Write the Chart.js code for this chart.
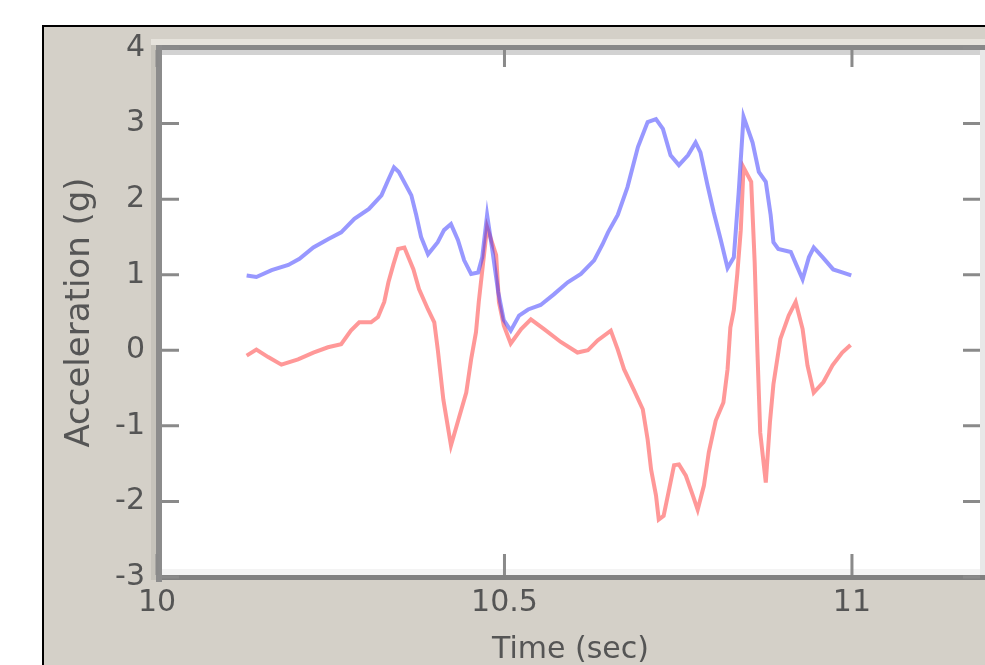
<!DOCTYPE html>
<html lang="en">
<head>
    <meta charset="UTF-8">
    <title>Acceleration vs Time</title>
    <script src="https://cdn.jsdelivr.net/npm/chart.js"></script>
    <style>
        html, body {
            margin: 0;
            padding: 0;
            background: #ffffff;
            overflow: hidden;
        }
        .stage {
            position: relative;
            width: 985px;
            height: 665px;
        }
        .panel {
            position: absolute;
            left: 42px;
            top: 25px;
            width: 943px;
            height: 640px;
            box-sizing: border-box;
            background: #d4d0c8;
            border-left: 2px solid #000;
            border-top: 2px solid #000;
        }
        #accelChart {
            position: absolute;
            left: 0;
            top: 0;
        }
    </style>
</head>
<body>
    <div class="stage">
        <div class="panel"></div>
        <canvas id="accelChart" width="985" height="665"></canvas>
    </div>

    <script>
        // values
        const blueTimes = [10.129, 10.143, 10.165, 10.189, 10.205, 10.225, 10.246, 10.265, 10.284, 10.305,
            10.323, 10.333, 10.341, 10.348, 10.366, 10.373, 10.380, 10.390, 10.404, 10.413,
            10.423, 10.433, 10.442, 10.452, 10.462, 10.468, 10.475, 10.482, 10.491, 10.499,
            10.509, 10.521, 10.534, 10.552, 10.571, 10.591, 10.610, 10.629, 10.641, 10.649,
            10.663, 10.677, 10.692, 10.706, 10.718, 10.728, 10.739, 10.751, 10.764, 10.775,
            10.782, 10.792, 10.801, 10.811, 10.821, 10.830, 10.837, 10.844, 10.857, 10.866,
            10.876, 10.883, 10.887, 10.894, 10.912, 10.920, 10.929, 10.938, 10.945, 10.958,
            10.973, 10.986, 10.999];
        const blueAccel = [0.99, 0.97, 1.06, 1.13, 1.21, 1.36, 1.47, 1.56, 1.74, 1.87,
            2.05, 2.26, 2.42, 2.36, 2.05, 1.79, 1.50, 1.27, 1.43, 1.59,
            1.67, 1.46, 1.19, 1.01, 1.03, 1.23, 1.79, 1.36, 0.77, 0.40,
            0.26, 0.46, 0.54, 0.60, 0.74, 0.90, 1.01, 1.19, 1.40, 1.56,
            1.79, 2.16, 2.69, 3.02, 3.06, 2.93, 2.58, 2.45, 2.58, 2.75,
            2.62, 2.19, 1.83, 1.47, 1.09, 1.23, 2.09, 3.09, 2.75, 2.36,
            2.23, 1.79, 1.43, 1.34, 1.30, 1.13, 0.94, 1.23, 1.36, 1.23,
            1.07, 1.03, 0.99];

        const redTimes = [10.129, 10.143, 10.160, 10.179, 10.203, 10.225, 10.246, 10.265, 10.279, 10.291,
            10.308, 10.318, 10.327, 10.333, 10.340, 10.347, 10.356, 10.369, 10.377, 10.390,
            10.399, 10.404, 10.412, 10.423, 10.434, 10.445, 10.452, 10.459, 10.463, 10.471,
            10.475, 10.488, 10.492, 10.499, 10.509, 10.524, 10.538, 10.557, 10.581, 10.605,
            10.620, 10.634, 10.653, 10.663, 10.672, 10.686, 10.699, 10.706, 10.711, 10.718,
            10.722, 10.729, 10.736, 10.744, 10.751, 10.761, 10.771, 10.778, 10.787, 10.794,
            10.804, 10.815, 10.821, 10.825, 10.830, 10.835, 10.840, 10.844, 10.855, 10.860,
            10.864, 10.868, 10.876, 10.882, 10.887, 10.897, 10.909, 10.919, 10.929, 10.936,
            10.945, 10.959, 10.972, 10.986, 10.998];
        const redAccel = [-0.07, 0.01, -0.09, -0.19, -0.12, -0.03, 0.04, 0.08, 0.26, 0.37,
            0.37, 0.44, 0.64, 0.90, 1.13, 1.34, 1.36, 1.07, 0.81, 0.54,
            0.37, 0.01, -0.65, -1.26, -0.91, -0.56, -0.12, 0.24, 0.64, 1.30,
            1.63, 1.26, 0.64, 0.33, 0.09, 0.28, 0.41, 0.28, 0.11, -0.03,
            0.00, 0.13, 0.26, 0.01, -0.25, -0.52, -0.78, -1.18, -1.58, -1.92,
            -2.24, -2.19, -1.88, -1.52, -1.51, -1.66, -1.92, -2.11, -1.79, -1.35,
            -0.93, -0.69, -0.25, 0.30, 0.53, 1.01, 1.59, 2.42, 2.23, 1.17,
            -0.03, -1.09, -1.75, -0.95, -0.45, 0.15, 0.46, 0.64, 0.28, -0.20,
            -0.56, -0.42, -0.20, -0.03, 0.07];

        const xTickValues = [10, 10.5, 11];
        const xTickLabels = ['10', '10.5', '11'];
        const yTickValues = [-3, -2, -1, 0, 1, 2, 3, 4];
        const yTickLabels = ['-3', '-2', '-1', '0', '1', '2', '3', '4'];

        const toPoints = (xs, ys) => xs.map((x, i) => ({ x: x, y: ys[i] }));

        // white plot box with the bevelled frame and inward ticks
        const axesFrame = {
            id: 'axesFrame',
            beforeDatasetsDraw(chart) {
                const { ctx, chartArea: a } = chart;
                ctx.save();
                ctx.fillStyle = '#ffffff';
                ctx.fillRect(a.left, a.top, a.right - a.left, a.bottom - a.top);
                ctx.restore();
            },
            afterDatasetsDraw(chart) {
                const { ctx, chartArea: a, scales } = chart;
                const w = a.right - a.left + 2;
                const h = a.bottom - a.top;
                ctx.save();
                ctx.fillStyle = '#e6e3dc';
                ctx.fillRect(a.left - 6, a.top - 9, w + 6, 6);
                ctx.fillStyle = '#c6c3bb';
                ctx.fillRect(a.left - 6, a.top - 3, 5, h + 6);
                ctx.fillStyle = '#d2d2d2';
                ctx.fillRect(a.left + 5, a.top + 2, w, 5);
                ctx.fillStyle = '#f3f3f3';
                ctx.fillRect(a.left + 5, a.bottom - 8, w, 6);
                ctx.fillStyle = '#e8e8e8';
                ctx.fillRect(a.right - 4, a.top + 2, 5, h - 4);
                ctx.fillStyle = '#888888';
                ctx.fillRect(a.left - 1, a.top - 3, w, 5);
                ctx.fillStyle = '#808080';
                ctx.fillRect(a.left - 1, a.bottom - 2, w, 5);
                ctx.fillStyle = '#8c8c8c';
                ctx.fillRect(a.left - 1, a.top - 3, 6, h + 8);

                ctx.strokeStyle = '#8a8a8a';
                ctx.lineWidth = 3;
                const tickLen = 17;
                ctx.beginPath();
                yTickValues.forEach(v => {
                    const py = scales.y.getPixelForValue(v);
                    ctx.moveTo(a.left + 5, py);
                    ctx.lineTo(a.left + 5 + tickLen, py);
                    ctx.moveTo(a.right - 4, py);
                    ctx.lineTo(a.right - 4 - tickLen, py);
                });
                xTickValues.forEach(v => {
                    const px = scales.x.getPixelForValue(v);
                    ctx.moveTo(px, a.top + 2);
                    ctx.lineTo(px, a.top + 2 + tickLen);
                    ctx.moveTo(px, a.bottom - 2);
                    ctx.lineTo(px, a.bottom - 2 - tickLen - 4);
                });
                ctx.stroke();
                ctx.restore();
            }
        };

        const tickFont = { family: 'DejaVu Sans', size: 30 };

        const ctx = document.getElementById('accelChart').getContext('2d');
        const chart = new Chart(ctx, {
            type: 'line',
            data: {
                datasets: [{
                    label: 'blue',
                    data: toPoints(blueTimes, blueAccel),
                    borderColor: 'rgba(50, 50, 255, 0.5)',
                    borderWidth: 4,
                    pointRadius: 0,
                    tension: 0,
                    fill: false
                }, {
                    label: 'red',
                    data: toPoints(redTimes, redAccel),
                    borderColor: 'rgba(255, 50, 50, 0.5)',
                    borderWidth: 4,
                    pointRadius: 0,
                    tension: 0,
                    fill: false
                }]
            },
            options: {
                responsive: false,
                animation: false,
                devicePixelRatio: 1,
                layout: {
                    padding: { top: 48, right: 1, left: 0, bottom: 0 }
                },
                plugins: {
                    legend: { display: false },
                    tooltip: { enabled: false }
                },
                scales: {
                    x: {
                        type: 'linear',
                        min: 10,
                        max: 11.19,
                        grid: { display: false, drawTicks: false },
                        border: { display: false },
                        afterBuildTicks: scale => {
                            scale.ticks = xTickValues.map(v => ({ value: v }));
                        },
                        afterFit: scale => { scale.height = 88; },
                        ticks: {
                            padding: 8,
                            color: '#555555',
                            font: tickFont,
                            maxRotation: 0,
                            callback: (value, i) => xTickLabels[i]
                        },
                        title: {
                            display: true,
                            text: 'Time (sec)',
                            color: '#555555',
                            font: { family: 'DejaVu Sans', size: 30, lineHeight: 1 },
                            padding: 0
                        }
                    },
                    y: {
                        type: 'linear',
                        min: -3,
                        max: 4,
                        grid: { display: false, drawTicks: false },
                        border: { display: false },
                        afterBuildTicks: scale => {
                            scale.ticks = yTickValues.map(v => ({ value: v }));
                        },
                        afterFit: scale => { scale.width = 157; },
                        ticks: {
                            padding: 12,
                            color: '#555555',
                            font: tickFont,
                            callback: (value, i) => yTickLabels[i]
                        },
                        title: {
                            display: true,
                            text: 'Acceleration (g)',
                            color: '#555555',
                            font: { family: 'DejaVu Sans', size: 34, lineHeight: 1.2 },
                            padding: { top: 60, bottom: 0 }
                        }
                    }
                }
            },
            plugins: [axesFrame]
        });
    </script>
</body>
</html>
